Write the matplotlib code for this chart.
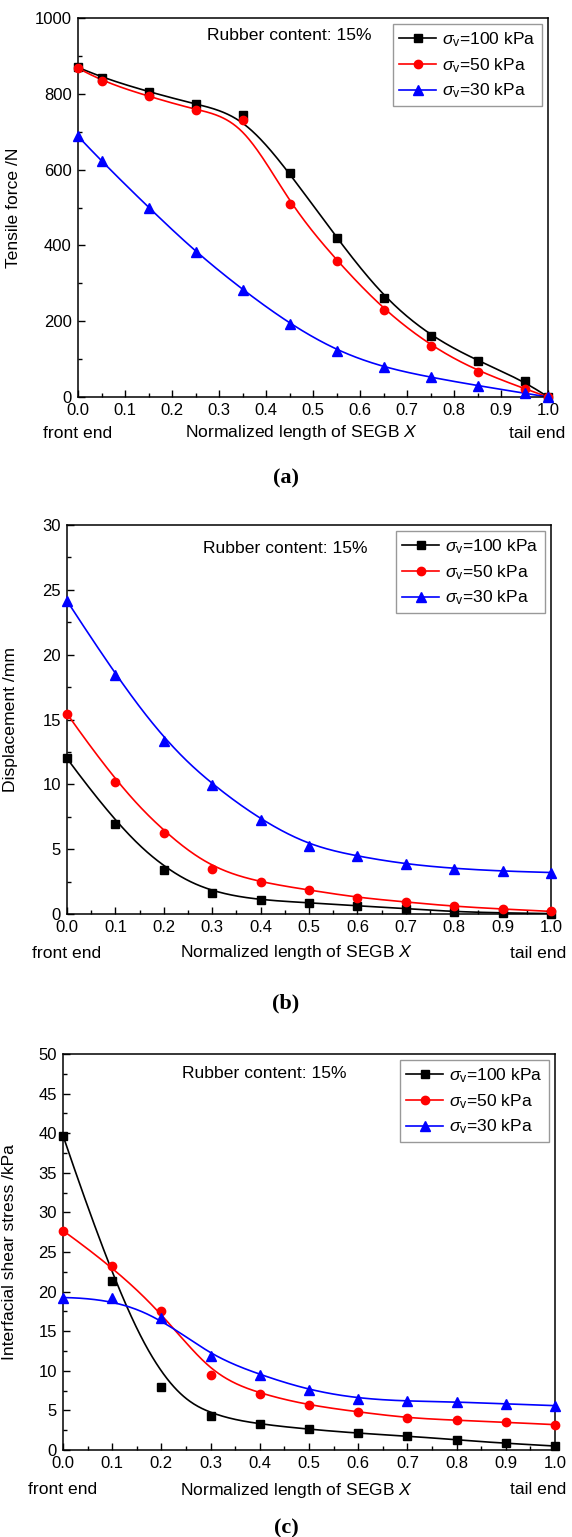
import numpy as np
import matplotlib
matplotlib.use("Agg")
import matplotlib.pyplot as plt
from matplotlib.ticker import MultipleLocator

plt.rcParams['font.family'] = ['Liberation Sans', 'DejaVu Sans']
plt.rcParams['mathtext.fontset'] = 'custom'
plt.rcParams['mathtext.rm'] = 'Liberation Sans'
plt.rcParams['mathtext.it'] = 'Liberation Sans:italic'

# ---------------- data ----------------
series_labels = [r'$\sigma_{\rm v}$=100 kPa', r'$\sigma_{\rm v}$=50 kPa', r'$\sigma_{\rm v}$=30 kPa']
series_colors = ['black', 'red', 'blue']
series_markers = ['s', 'o', '^']

# (a) tensile force
x_a = [0.0, 0.05, 0.15, 0.25, 0.35, 0.45, 0.55, 0.65, 0.75, 0.85, 0.95, 1.0]
force_100 = [870, 843, 805, 773, 743, 592, 420, 262, 160, 95, 42, 0]
force_50 = [868, 833, 793, 758, 732, 508, 360, 230, 135, 67, 22, 0]
force_30 = [688, 622, 500, 383, 283, 193, 122, 78, 52, 30, 10, 0]

# (b) displacement
x_b = [0.0, 0.1, 0.2, 0.3, 0.4, 0.5, 0.6, 0.7, 0.8, 0.9, 1.0]
disp_100 = [12.0, 6.95, 3.37, 1.65, 1.07, 0.87, 0.63, 0.42, 0.17, 0.08, 0.03]
disp_50 = [15.45, 10.15, 6.25, 3.5, 2.44, 1.85, 1.27, 0.93, 0.58, 0.38, 0.2]
disp_30 = [24.15, 18.4, 13.35, 9.97, 7.26, 5.28, 4.45, 3.85, 3.5, 3.3, 3.2]

# (c) interfacial shear stress
x_c = [0.0, 0.1, 0.2, 0.3, 0.4, 0.5, 0.6, 0.7, 0.8, 0.9, 1.0]
shear_100 = [39.7, 21.4, 8.0, 4.35, 3.25, 2.62, 2.11, 1.77, 1.27, 0.84, 0.5]
shear_50 = [27.7, 23.2, 17.5, 9.5, 7.09, 5.65, 4.81, 4.05, 3.75, 3.5, 3.2]
shear_30 = [19.25, 19.15, 16.7, 11.9, 9.5, 7.55, 6.5, 6.16, 6.08, 5.82, 5.6]

note_text = 'Rubber content: 15%'
xtick_vals = [0.0, 0.1, 0.2, 0.3, 0.4, 0.5, 0.6, 0.7, 0.8, 0.9, 1.0]


def bspline(xs, ys, n=400, k=3):
    """Clamped cubic B-spline using the data points as control points (Origin 'B-Spline' connect)."""
    P = np.column_stack([xs, ys]).astype(float)
    m = len(P)
    inner = np.linspace(0, 1, m - k + 1)[1:-1]
    t = np.concatenate([np.zeros(k + 1), inner, np.ones(k + 1)])
    u = np.linspace(0, 1, n)
    u[-1] = 1 - 1e-12
    N = np.zeros((n, len(t) - 1))
    for i in range(len(t) - 1):
        N[:, i] = ((u >= t[i]) & (u < t[i + 1])).astype(float)
    for d in range(1, k + 1):
        Nn = np.zeros((n, len(t) - d - 1))
        for i in range(len(t) - d - 1):
            a = np.zeros(n)
            b = np.zeros(n)
            if t[i + d] != t[i]:
                a = (u - t[i]) / (t[i + d] - t[i]) * N[:, i]
            if t[i + d + 1] != t[i + 1]:
                b = (t[i + d + 1] - u) / (t[i + d + 1] - t[i + 1]) * N[:, i + 1]
            Nn[:, i] = a + b
        N = Nn
    C = N @ P
    return C[:, 0], C[:, 1]


W, H = 572, 1537
fig = plt.figure(figsize=(W / 100, H / 100), dpi=100)


def px_axes(left, top, right, bottom):
    return fig.add_axes([left / W, 1 - bottom / H, (right - left) / W, (bottom - top) / H])


panels = [
    dict(box=(78, 18, 548, 397), x=x_a, ys=[force_100, force_50, force_30],
         ylim=(0, 1000), ymaj=200, ymin=100, ylabel='Tensile force /N', ylab_x=21,
         note=(0.45, 0.953), lab_y=433, cap='(a)', cap_y=478, tail_x=537),
    dict(box=(67, 525, 551, 914), x=x_b, ys=[disp_100, disp_50, disp_30],
         ylim=(0, 30), ymaj=5, ymin=2.5, ylabel='Displacement /mm', ylab_x=18,
         note=(0.45, 0.94), lab_y=953, cap='(b)', cap_y=1003, tail_x=538),
    dict(box=(63, 1054, 555, 1450), x=x_c, ys=[shear_100, shear_50, shear_30],
         ylim=(0, 50), ymaj=5, ymin=2.5, ylabel='Interfacial shear stress /kPa', ylab_x=17,
         note=(0.41, 0.95), lab_y=1490, cap='(c)', cap_y=1528, tail_x=538),
]

FS = 12.6
for p in panels:
    l, t, r, b = p['box']
    ax = px_axes(l, t, r, b)
    for ys, c, mk, lab in zip(p['ys'], series_colors, series_markers, series_labels):
        cx, cy = bspline(p['x'], ys)
        ax.plot(cx, cy, color=c, lw=1.2, zorder=2)
        ms = 7.5 if mk == '^' else 6
        ax.plot(p['x'], ys, linestyle='none', marker=mk, color=c, ms=ms, zorder=3, clip_on=False)
        ax.plot([], [], color=c, lw=1.2, marker=mk, ms=ms, label=lab)
    ax.set_xlim(0, 1)
    ax.set_ylim(*p['ylim'])
    ax.set_xticks(xtick_vals)
    ax.set_xticklabels(['%.1f' % v for v in xtick_vals])
    ax.xaxis.set_minor_locator(MultipleLocator(0.05))
    ax.yaxis.set_major_locator(MultipleLocator(p['ymaj']))
    ax.yaxis.set_minor_locator(MultipleLocator(p['ymin']))
    ax.tick_params(which='both', direction='in', top=False, right=False, labelsize=12, width=1.0)
    ax.tick_params(which='major', length=5, pad=4.5)
    ax.tick_params(which='minor', length=3)
    for s in ax.spines.values():
        s.set_linewidth(1.1)
    ax.set_ylabel(p['ylabel'], fontsize=FS)
    ax.yaxis.set_label_coords((p['ylab_x'] - l) / (r - l), 0.5)
    ax.text(p['note'][0], p['note'][1], note_text, transform=ax.transAxes,
            ha='center', va='center', fontsize=FS)
    leg = ax.legend(loc='upper right', fontsize=FS, frameon=True, fancybox=False,
                    edgecolor='#808080', handlelength=2.1, handletextpad=0.35,
                    borderaxespad=0.35, labelspacing=0.4, borderpad=0.35, numpoints=1)
    leg.get_frame().set_linewidth(1.0)
    fig.text(l / W, 1 - p['lab_y'] / H, 'front end', ha='center', va='center', fontsize=FS)
    fig.text((l + 0.475 * (r - l)) / W, 1 - p['lab_y'] / H, r'Normalized length of SEGB $X$',
             ha='center', va='center', fontsize=FS)
    fig.text(p['tail_x'] / W, 1 - p['lab_y'] / H, 'tail end', ha='center', va='center', fontsize=FS)
    fig.text(0.5, 1 - p['cap_y'] / H, p['cap'], ha='center', va='center', fontsize=16,
             fontweight='bold', family='Liberation Serif')

fig.savefig('out.png', dpi=100)
